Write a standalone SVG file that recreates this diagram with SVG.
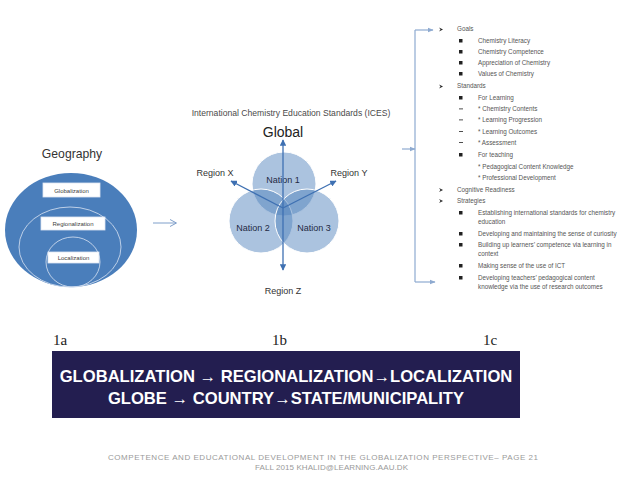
<svg xmlns="http://www.w3.org/2000/svg" width="638" height="479" viewBox="0 0 638 479">
<defs>
<style>
.lbl{font-family:"Liberation Sans",Arial,sans-serif;fill:#404040}
.box{fill:#fff;stroke:#dfe7f2;stroke-width:0.8}
.nat{fill:#4f81bd;fill-opacity:0.48;stroke:#fff;stroke-width:1}
.list{font-family:"Liberation Sans",Arial,sans-serif;font-size:6.3px;fill:#555}
.conn{stroke:#8eaad0;stroke-width:1.2;fill:none}
.ax{stroke:#3e70b2;stroke-width:1.3;fill:none}
.num{font-family:"Liberation Serif","Times New Roman",serif;font-size:15px;fill:#222}
.banner{font-family:"Liberation Sans",Arial,sans-serif;font-size:16.6px;font-weight:bold;fill:#fff}
.foot{font-family:"Liberation Sans",Arial,sans-serif;font-size:8px;fill:#9a9a9a}
</style>
<marker id="ah" viewBox="0 0 10 10" refX="9" refY="5" markerWidth="5" markerHeight="5" orient="auto-start-reverse">
<path d="M0,0 L10,5 L0,10 z" fill="#3e70b2"/>
</marker>
<marker id="ah2" viewBox="0 0 10 10" refX="9" refY="5" markerWidth="5" markerHeight="5" orient="auto">
<path d="M0,1 L10,5 L0,9 z" fill="#8eaad0"/>
</marker>
</defs>
<rect width="638" height="479" fill="#fff"/>

<!-- 1a Geography -->
<g id="geography">
<text x="72" y="158" text-anchor="middle" class="lbl" style="font-size:12.2px;fill:#333">Geography</text>
<ellipse cx="71" cy="230" rx="66" ry="57" fill="#4a7ebb"/>
<ellipse cx="70" cy="247" rx="51" ry="40" fill="none" stroke="#c9d8ec" stroke-width="0.9"/>
<ellipse cx="73" cy="262" rx="27" ry="25" fill="none" stroke="#c9d8ec" stroke-width="0.9"/>
</g>
<g id="globalization">
<rect x="43" y="183" width="57" height="14" class="box"/>
<text x="71.5" y="192.5" text-anchor="middle" class="lbl" style="font-size:6px">Globalization</text>
</g>
<g id="regionalization">
<rect x="41" y="217" width="64" height="13" class="box"/>
<text x="73" y="226" text-anchor="middle" class="lbl" style="font-size:6px">Regionalization</text>
</g>
<g id="localization">
<rect x="48" y="252" width="51" height="11" class="box"/>
<text x="73.5" y="260" text-anchor="middle" class="lbl" style="font-size:6px">Localization</text>
</g>

<!-- 1b ICES -->
<g id="ices">
<text x="291" y="116" text-anchor="middle" class="lbl" style="font-size:8.6px;fill:#4a4a4a">International  Chemistry Education Standards (ICES)</text>
<text x="283" y="137" text-anchor="middle" class="lbl" style="font-size:14px;fill:#222">Global</text>
</g>
<g id="nation1"><circle cx="284" cy="184" r="32" class="nat"/><text x="283" y="183" text-anchor="middle" class="lbl" style="font-size:9px;fill:#1f2a44">Nation 1</text></g>
<g id="nation2"><circle cx="261" cy="221" r="32" class="nat"/><text x="253" y="231" text-anchor="middle" class="lbl" style="font-size:9px;fill:#1f2a44">Nation 2</text></g>
<g id="nation3"><circle cx="307" cy="221" r="32" class="nat"/><text x="314" y="231" text-anchor="middle" class="lbl" style="font-size:9px;fill:#1f2a44">Nation 3</text></g>
<g id="regionX"><text x="215" y="176" text-anchor="middle" class="lbl" style="font-size:9px;fill:#333">Region X</text></g>
<g id="regionY"><text x="349" y="176" text-anchor="middle" class="lbl" style="font-size:9px;fill:#333">Region Y</text></g>
<g id="regionZ"><text x="283" y="294" text-anchor="middle" class="lbl" style="font-size:9px;fill:#333">Region Z</text></g>

<!-- 1c list -->
<g id="list">
<g class="list">
<text x="457" y="31">Goals</text>
<text x="478" y="43">Chemistry Literacy</text>
<text x="478" y="54">Chemistry Competence</text>
<text x="478" y="65">Appreciation of Chemistry</text>
<text x="478" y="76">Values of Chemistry</text>
<text x="457" y="88">Standards</text>
<text x="478" y="100">For Learning</text>
<text x="478" y="111">* Chemistry Contents</text>
<text x="478" y="122">* Learning Progression</text>
<text x="478" y="134">* Learning Outcomes</text>
<text x="478" y="145">* Assessment</text>
<text x="478" y="157">For teaching</text>
<text x="478" y="169">* Pedagogical Content Knowledge</text>
<text x="478" y="180">* Professional Development</text>
<text x="457" y="192">Cognitive Readiness</text>
<text x="457" y="203">Strategies</text>
<text x="478" y="215">Establishing international standards for chemistry</text>
<text x="478" y="224">education</text>
<text x="478" y="236">Developing and maintaining the sense of curiosity</text>
<text x="478" y="247">Building up learners’ competence via learning in</text>
<text x="478" y="256">context</text>
<text x="478" y="268">Making sense of the use of ICT</text>
<text x="478" y="280">Developing teachers’ pedagogical content</text>
<text x="478" y="289">knowledge via the use of research outcomes</text>
</g>
<g fill="#222">
<path d="M439,27.5 L443,29.5 L439,31.5 L440.5,29.5 z"/>
<path d="M439,84.5 L443,86.5 L439,88.5 L440.5,86.5 z"/>
<path d="M439,188 L443,190 L439,192 L440.5,190 z"/>
<path d="M439,199 L443,201 L439,203 L440.5,201 z"/>
<rect x="459" y="39" width="3.5" height="3.5"/>
<rect x="459" y="50" width="3.5" height="3.5"/>
<rect x="459" y="61" width="3.5" height="3.5"/>
<rect x="459" y="72" width="3.5" height="3.5"/>
<rect x="459" y="96" width="3.5" height="3.5"/>
<rect x="459" y="153" width="3.5" height="3.5"/>
<rect x="459" y="211" width="3.5" height="3.5"/>
<rect x="459" y="232" width="3.5" height="3.5"/>
<rect x="459" y="243" width="3.5" height="3.5"/>
<rect x="459" y="264" width="3.5" height="3.5"/>
<rect x="459" y="276" width="3.5" height="3.5"/>
<rect x="459" y="108.5" width="4" height="0.8"/>
<rect x="459" y="119.5" width="4" height="0.8"/>
<rect x="459" y="131" width="4" height="0.8"/>
<rect x="459" y="142" width="4" height="0.8"/>
</g>
</g>

<!-- connectors -->
<g id="connectors">
<path d="M153,223 H176" stroke="#7f9fca" stroke-width="1" fill="none"/>
<path d="M170,219.5 L176.5,223 L170,226.5" stroke="#7f9fca" stroke-width="1" fill="none"/>
<line x1="283" y1="270" x2="283" y2="140" class="ax" marker-start="url(#ah)" marker-end="url(#ah)"/>
<line x1="283" y1="208" x2="231" y2="181" class="ax" marker-end="url(#ah)"/>
<line x1="283" y1="208" x2="336" y2="181" class="ax" marker-end="url(#ah)"/>
<path d="M415,30 V282" class="conn"/>
<path d="M415,30 H433" class="conn" marker-end="url(#ah2)"/>
<path d="M415,282 H435" class="conn" marker-end="url(#ah2)"/>
<path d="M402,149 H415" class="conn" marker-end="url(#ah2)"/>
</g>

<!-- labels & banner -->
<text x="53" y="345" class="num">1a</text>
<text x="272" y="345" class="num">1b</text>
<text x="483" y="345" class="num">1c</text>
<g id="banner">
<rect x="52" y="351" width="468" height="67" fill="#231e50"/>
<text x="286" y="382" text-anchor="middle" class="banner">GLOBALIZATION → REGIONALIZATION→LOCALIZATION</text>
<text x="286" y="404" text-anchor="middle" class="banner">GLOBE → COUNTRY→STATE/MUNICIPALITY</text>
</g>
<g id="footer">
<text x="108" y="460" class="foot" textLength="430">COMPETENCE AND EDUCATIONAL DEVELOPMENT IN THE GLOBALIZATION PERSPECTIVE– PAGE 21</text>
<text x="255" y="469.5" class="foot" textLength="153">FALL 2015  KHALID@LEARNING.AAU.DK</text>
</g>
</svg>
